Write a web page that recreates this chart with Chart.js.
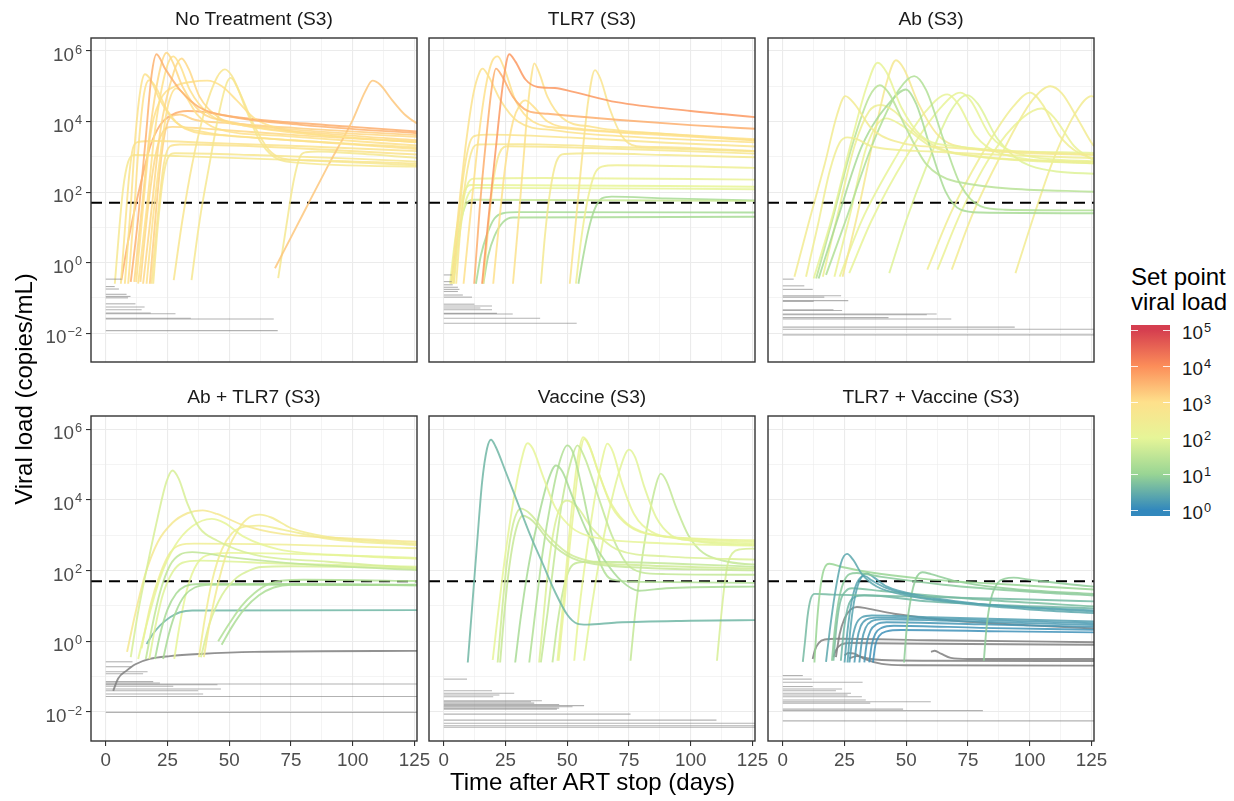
<!DOCTYPE html>
<html><head><meta charset="utf-8">
<script src="https://cdn.jsdelivr.net/npm/chart.js@4.4.1/dist/chart.umd.min.js"></script>
<style>
body{margin:0;background:#fff;width:1234px;height:801px;overflow:hidden;position:relative;font-family:"Liberation Sans",Arial,Helvetica,sans-serif;}
canvas{position:absolute;}
.txt{position:absolute;line-height:1;white-space:nowrap;}
.strip{width:326px;text-align:center;font-size:19.2px;color:#1a1a1a;}
.lab{font-size:18.8px;color:#1a1a1a;}
.lab span{position:relative;top:-7.5px;font-size:12.8px;margin-left:1px;}
</style></head><body>
<script>
// ---------------- DATA (y values are log10 viral load, copies/mL) ----------------
const panelTitles = ["No Treatment (S3)","TLR7 (S3)","Ab (S3)","Ab + TLR7 (S3)","Vaccine (S3)","TLR7 + Vaccine (S3)"];
const xTicks = [0,25,50,75,100,125];
const xGrid = [0,12.5,25,37.5,50,62.5,75,87.5,100,112.5,125];
const yTickPowers = [-2,0,2,4,6];
const yGrid = [-2,-1,0,1,2,3,4,5,6];
const legendPowers = [0,1,2,3,4,5];
const detectionLimit = 50;
const xTitle = "Time after ART stop (days)";
const yTitle = "Viral load (copies/mL)";
const legendTitle = ["Set point","viral load"];

const noTreatmentCurves = [
 [[10.1,-0.55],[13,1.2],[16,3.4],[18.5,5.3],[20.5,5.91],[24,5.5],[30,4.9],[38,4.4],[50,4.15],[80,3.9],[130,3.65]],
 [[11.5,-0.55],[14.5,1.5],[18,3.8],[22,5.5],[24.6,5.95],[27,5.7],[31,5.0],[38,4.3],[50,4.0],[80,3.75],[130,3.55]],
 [[13.1,-0.6],[16.5,1.5],[20,3.8],[24.5,5.5],[27.3,5.85],[30,5.6],[34,4.9],[42,4.2],[55,3.9],[90,3.6],[130,3.4]],
 [[15.1,-0.6],[18.5,1.5],[22,3.7],[27.5,5.4],[30.7,5.79],[33.5,5.5],[38,4.7],[46,4.1],[60,3.85],[90,3.65],[130,3.45]],
 [[7.7,-0.6],[10,1.5],[12,3.6],[14,4.9],[15.8,5.34],[18,5.2],[22,4.6],[28,4.0],[40,3.7],[70,3.5],[130,3.25]],
 [[9.05,-0.6],[11.5,1.5],[13.5,3.5],[15.5,4.8],[17.5,5.17],[20,5.0],[25,4.3],[32,3.8],[50,3.6],[90,3.4],[130,3.2]],
 [[12.3,-0.55],[15,1.5],[18,3.6],[22,4.6],[28,5.0],[35,5.13],[41,5.16],[47,5.0],[53,4.6],[60,4.1],[70,3.8],[90,3.6],[130,3.4]],
 [[27.5,-0.5],[31,1.2],[35,2.8],[40,4.3],[45,5.25],[48.2,5.48],[51,5.3],[55,4.7],[60,3.9],[66,3.2],[72,2.95],[85,2.9],[130,2.8]],
 [[34.7,-0.5],[38,1.2],[42,2.8],[46,4.3],[49,5.1],[50.6,5.24],[53,5.0],[57,4.3],[62,3.5],[68,3.0],[75,2.85],[130,2.72]],
 [[68.5,-0.16],[80,1.4],[90,2.75],[100,4.05],[105,4.85],[108,5.16],[111,5.05],[116,4.6],[121,4.2],[126,3.95],[132,3.75]],
 [[69.8,-0.44],[73,1.0],[76,2.3],[78.6,3.0],[81,3.13],[86,3.15],[100,3.1],[130,2.95]],
 [[16.5,-0.6],[19,1.2],[22,3.0],[25,4.4],[28.6,4.94],[32,4.75],[37,4.2],[45,3.8],[70,3.6],[130,3.3]],
 [[6.1,-0.6],[8,1.2],[9.5,2.5],[11,3.25],[13,3.42],[20,3.45],[40,3.4],[80,3.3],[130,3.15]],
 [[3.65,-0.6],[5.5,1.0],[7,2.1],[9,2.85],[11.5,3.05],[30,3.02],[80,2.9],[130,2.75]],
 [[6.3,-0.5],[9,0.6],[12,1.6],[15,2.5],[18,3.3],[22,3.9],[27,4.2],[33,4.3],[40,4.27],[50,4.15],[70,4.0],[100,3.85],[130,3.7]],
 [[17.8,-0.6],[20,1.2],[22,2.7],[24,3.7],[26.5,4.15],[30,4.2],[36,4.05],[50,3.95],[80,3.8],[130,3.6]],
 [[19.2,-0.6],[21,1.0],[23,2.3],[25,2.95],[28,3.1],[60,3.05],[100,2.95],[130,2.85]],
 [[14,-0.55],[17,1.5],[20,3.0],[23,3.7],[27,3.85],[40,3.8],[80,3.6],[130,3.4]],
 [[18.5,-0.6],[21,1.3],[23.5,2.8],[26,3.3],[30,3.35],[60,3.3],[130,3.05]]
];
const noTreatmentSetpoint = [3.55,3.1,3.0,3.1,2.9,3.0,3.0,2.75,2.65,3.3,2.6,3.0,2.85,2.65,3.6,3.2,2.7,3.1,2.85];
const noTreatmentRebound = [[6.4,-0.47],[3.6,-0.68],[5.3,-0.75],[8.4,-0.9],[10,-0.96],[9,-1.0],[12,-1.17],[15.7,-1.26],[14.5,-1.34],[18.2,-1.43],[28.2,-1.45],[34.4,-1.58],[68,-1.6],[69.6,-1.93]];

const tlr7Curves = [
 [[15.5,-0.6],[18,1.2],[21,3.2],[24,5.1],[26.5,5.91],[29,5.7],[33,5.2],[38,4.98],[45,4.95],[52,4.85],[70,4.55],[100,4.3],[130,4.1]],
 [[12.3,-0.6],[14.5,1.5],[17,3.4],[19.5,5.0],[21.1,5.5],[23.5,5.3],[28,4.7],[34,4.3],[42,4.22],[70,4.05],[100,3.9],[130,3.78]],
 [[8,-0.6],[11,1.5],[14,3.5],[17,5.0],[19.5,5.7],[21.8,5.85],[24.5,5.5],[29,4.6],[36,4.0],[50,3.8],[80,3.65],[130,3.45]],
 [[3,-0.6],[6,1.5],[9,3.4],[12,4.8],[14.5,5.4],[15.7,5.5],[18,5.3],[23,4.6],[30,4.0],[45,3.75],[80,3.55],[130,3.4]],
 [[28,-0.6],[30,1.0],[32,2.7],[34,4.4],[35.5,5.3],[36.6,5.65],[38.5,5.4],[42,4.7],[48,4.1],[60,3.85],[90,3.65],[130,3.45]],
 [[51,-0.6],[53.5,1.2],[56,3.0],[58.5,4.6],[61.2,5.46],[63.5,5.2],[67,4.4],[72,3.6],[78,3.3],[85,3.28],[130,3.15]],
 [[20,-0.6],[22.5,1.2],[25,2.8],[28,4.0],[31,4.5],[33,4.6],[36,4.45],[42,4.0],[55,3.8],[90,3.65],[130,3.48]],
 [[4,-0.6],[6,1.2],[8,2.5],[10.5,3.4],[13,3.6],[18,3.63],[50,3.55],[90,3.4],[130,3.28]],
 [[5,-0.6],[7,1.2],[9,2.4],[11.5,3.2],[14,3.35],[30,3.36],[70,3.28],[130,3.15]],
 [[16,-0.6],[18,1.0],[20,2.3],[22.5,3.1],[26,3.3],[60,3.25],[130,3.08]],
 [[39.3,-0.6],[41,0.8],[43,2.0],[45.5,2.85],[49,3.08],[60,3.1],[90,3.05],[130,2.98]],
 [[53.5,-0.6],[55.5,0.6],[58,1.7],[61,2.5],[64,2.72],[70,2.76],[130,2.68]],
 [[3.5,-0.6],[5.5,0.6],[7.5,1.6],[9.5,2.2],[12,2.38],[40,2.4],[130,2.35]],
 [[2.5,-0.6],[4.5,0.6],[6.5,1.5],[8.5,2.05],[11,2.2],[130,2.15]],
 [[4,-0.6],[6,0.6],[8,1.5],[10,1.95],[13,2.12],[130,2.08]],
 [[3,-0.6],[5,0.4],[7,1.2],[9,1.65],[12,1.78],[130,1.75]],
 [[54.5,-0.6],[56.5,0.2],[58.5,0.9],[61,1.5],[64,1.82],[68,1.87],[90,1.82],[130,1.76]],
 [[13,-0.6],[15,0.2],[17.5,0.8],[20.5,1.25],[24,1.4],[30,1.43],[130,1.42]],
 [[16,-0.6],[18,0.2],[20.5,0.75],[24,1.15],[28,1.28],[130,1.3]]
];
const tlr7Setpoint = [3.85,3.6,3.0,2.9,2.9,2.8,3.0,2.8,2.7,2.7,2.55,2.35,2.15,2.05,2.0,1.6,1.2,1.15,1.2];
const tlr7Rebound = [[3.2,-0.35],[3.2,-0.54],[3.6,-0.63],[5.7,-0.7],[6.3,-0.76],[5.7,-0.82],[7.7,-0.92],[11.4,-0.98],[12.4,-1.18],[19.5,-1.23],[14.8,-1.29],[19.5,-1.34],[21.5,-1.44],[27.9,-1.46],[39,-1.58],[53.8,-1.72]];

const abCurves = [
 [[4.7,-0.4],[10,1.0],[17,2.8],[22,4.2],[25.3,4.72],[29,4.5],[36,3.8],[45,3.45],[70,3.25],[130,3.05]],
 [[9.4,-0.4],[14,1.0],[19,2.6],[23,3.4],[26.2,3.55],[30,3.5],[36,3.3],[60,3.15],[130,2.95]],
 [[12.5,-0.45],[20,1.3],[28,3.5],[34,5.0],[38.4,5.67],[42,5.4],[48,4.4],[56,3.6],[70,3.3],[130,3.1]],
 [[13.5,-0.45],[20,1.2],[28,3.3],[35,4.7],[39.3,5.03],[43,4.8],[50,3.8],[58,2.8],[70,2.3],[130,2.0]],
 [[14.5,-0.45],[22,1.2],[32,3.3],[44,4.6],[49.8,4.91],[54,4.5],[60,3.2],[66,2.0],[72,1.5],[80,1.42],[130,1.4]],
 [[16.2,-0.4],[22,1.3],[29,3.3],[35,4.3],[39.7,4.47],[45,4.3],[55,3.6],[70,3.1],[130,2.85]],
 [[17.5,-0.35],[26,1.3],[36,3.3],[47,4.9],[53.2,5.29],[58,4.9],[65,3.5],[72,2.2],[80,1.6],[90,1.5],[130,1.48]],
 [[20.9,-0.4],[27,1.3],[34,3.3],[41.7,4.09],[48,3.9],[60,3.3],[80,3.0],[130,2.8]],
 [[24.2,-0.4],[30,1.3],[37,3.6],[42,5.1],[45.8,5.74],[49,5.5],[55,4.5],[63,3.6],[75,3.25],[130,3.05]],
 [[23,-0.4],[32,1.2],[45,2.9],[58,4.3],[66.6,4.77],[71,4.5],[78,3.6],[88,3.1],[130,2.8]],
 [[26.9,-0.3],[36,1.2],[50,3.0],[64,4.4],[71.9,4.82],[76,4.6],[84,3.6],[95,3.1],[130,2.85]],
 [[43.1,-0.3],[50,1.2],[58,2.7],[68,4.3],[74.6,4.75],[79,4.5],[87,3.5],[100,2.75],[130,2.5]],
 [[58.5,-0.2],[68,1.4],[80,3.0],[93,4.4],[100.2,4.82],[105,4.5],[112,3.6],[120,3.1],[130,2.9]],
 [[62.6,-0.2],[72,1.4],[84,3.0],[97,4.1],[104.9,4.37],[110,4.1],[118,3.3],[126,2.9],[132,2.75]],
 [[68.4,-0.2],[77,1.4],[88,3.0],[101,4.6],[108.3,5.0],[113,4.8],[120,4.0],[126,3.3],[132,3.0]],
 [[94.2,-0.3],[102,1.4],[110,3.0],[119,4.3],[125,4.72],[130,4.5]]
];
const abSetpoint = [2.5,2.4,2.1,1.4,1.2,2.3,1.3,2.2,2.6,2.1,2.1,1.9,2.4,2.2,2.5,2.5];
const abRebound = [[4.4,-0.47],[8.7,-0.66],[12.1,-0.76],[23.6,-0.94],[16.8,-0.98],[26.5,-1.08],[12.5,-1.1],[20.5,-1.34],[24,-1.36],[62.3,-1.46],[58.3,-1.48],[42.8,-1.56],[68.2,-1.6],[93.9,-1.83],[130,-1.89],[130,-2.05]];

const abTlr7Curves = [
 [[10.1,-0.45],[13,0.8],[17,2.2],[21,3.5],[24.5,4.5],[27,4.83],[29.5,4.6],[33,3.9],[38,3.2],[45,2.85],[60,2.45],[90,2.25],[130,2.05]],
 [[8.6,-0.3],[12,0.8],[16,1.9],[21,2.8],[27,3.35],[33,3.62],[39.2,3.7],[45,3.6],[55,3.3],[70,3.05],[100,2.9],[130,2.8]],
 [[13.1,-0.5],[17,0.6],[22,1.8],[28,2.7],[35,3.25],[42.8,3.46],[48,3.35],[56,2.95],[70,2.6],[100,2.42],[130,2.32]],
 [[39.7,-0.45],[42,0.5],[45,1.5],[49,2.5],[54,3.2],[58,3.5],[62.4,3.58],[67,3.5],[75,3.2],[90,2.95],[110,2.82],[130,2.75]],
 [[37.7,-0.45],[40,0.6],[43,1.7],[47,2.6],[51,3.05],[55,3.22],[62,3.27],[72,3.15],[90,2.9],[130,2.7]],
 [[14.5,-0.2],[18,1.0],[22,1.9],[26,2.5],[30,2.72],[36,2.76],[80,2.72],[130,2.62]],
 [[16.2,-0.5],[19,0.5],[22,1.4],[26,2.15],[30,2.45],[35,2.52],[50,2.38],[80,2.18],[130,2.0]],
 [[17.6,-0.5],[20,0.4],[23,1.3],[27,1.95],[31,2.22],[38,2.28],[70,2.2],[130,2.1]],
 [[38.5,-0.45],[42,0.5],[47,1.3],[53,1.8],[58,2.0],[63,2.1],[75,2.12],[130,2.05]],
 [[19.9,-0.5],[22,0.2],[25,0.9],[28.5,1.35],[32,1.55],[38,1.62],[80,1.62],[130,1.58]],
 [[23.2,-0.5],[25.5,0.2],[28.5,0.85],[32,1.3],[36,1.52],[42,1.6],[130,1.6]],
 [[45.5,0.0],[50,0.5],[55,1.0],[60,1.35],[66,1.62],[72,1.72],[80,1.74],[130,1.7]],
 [[46.9,-0.1],[51,0.4],[56,0.9],[62,1.3],[68,1.52],[75,1.6],[130,1.58]],
 [[16.5,-0.08],[19,0.2],[22,0.45],[26,0.68],[30,0.82],[35,0.87],[130,0.88]],
 [[27.7,-0.5],[30,0.5],[33,1.5],[37,2.2],[42,2.45],[50,2.5],[130,2.35]],
 [[3,-1.4],[5,-1.05],[8.4,-0.83],[12,-0.65],[17.8,-0.5],[26,-0.42],[38,-0.36],[60,-0.3],[130,-0.27]]
];
const abTlr7Setpoint = [1.8,2.6,2.0,2.5,2.45,2.4,1.5,1.9,1.8,1.2,1.2,1.3,1.25,0.6,2.0,null];
const abTlr7Rebound = [[10.8,-0.58],[10.4,-0.72],[16.9,-0.86],[15.1,-0.92],[19.2,-1.14],[21.9,-1.18],[130,-1.21],[45.2,-1.23],[27.3,-1.27],[46.6,-1.35],[37.4,-1.4],[39.4,-1.49],[130,-1.56],[130,-2.01]];

const vaccineCurves = [
 [[9.7,-0.6],[11.5,1.0],[13.5,2.8],[15.5,4.5],[17.5,5.45],[19.1,5.7],[21,5.5],[25,4.8],[30,3.9],[35,3.0],[40,2.2],[45,1.4],[50,0.75],[54,0.5],[58,0.47],[70,0.53],[100,0.58],[130,0.6]],
 [[19.8,-0.53],[22,0.8],[25,2.5],[28,3.9],[31,5.0],[33.9,5.6],[36,5.45],[40,4.7],[45,3.8],[52,3.2],[60,2.95],[80,2.8],[130,2.7]],
 [[21.8,-0.6],[23.5,0.8],[25.5,2.2],[28,3.3],[31.2,3.75],[35,3.6],[42,3.0],[50,2.5],[60,2.25],[80,2.15],[130,2.05]],
 [[22.8,-0.6],[24.5,0.8],[26.5,2.1],[29,3.1],[32,3.55],[36,3.4],[43,2.8],[52,2.35],[65,2.15],[130,2.0]],
 [[28.9,-0.6],[31,0.6],[34,2.0],[38,3.4],[42,4.5],[45.4,4.97],[48,4.8],[52,4.1],[58,3.1],[65,2.3],[72,1.7],[79,1.43],[90,1.5],[130,1.55]],
 [[34.6,-0.6],[37,0.8],[40,2.5],[43.5,4.0],[47,5.1],[50,5.54],[52.5,5.3],[56,4.3],[60,3.0],[64,2.1],[68,1.75],[80,1.68],[130,1.65]],
 [[38.6,-0.6],[40.5,0.8],[42.5,2.2],[45,3.3],[47.5,3.85],[50,3.98],[54,3.8],[60,3.2],[70,2.6],[90,2.4],[130,2.3]],
 [[39.3,-0.6],[42,0.8],[45,2.5],[48,4.0],[51.5,5.1],[54.1,5.54],[57,5.2],[62,4.2],[68,3.0],[74,2.2],[80,1.95],[90,1.9],[130,1.88]],
 [[46,-0.55],[48.5,1.2],[50.5,2.8],[52.5,4.2],[54.5,5.3],[56.4,5.77],[58.5,5.6],[62,4.9],[67,4.0],[73,3.4],[80,3.1],[100,2.9],[130,2.8]],
 [[46.5,-0.55],[49,1.2],[51,2.7],[53,4.0],[55,5.2],[56.8,5.72],[59,5.5],[63,4.7],[68,3.8],[75,3.25],[85,3.0],[130,2.85]],
 [[52.8,-0.55],[55,1.0],[58,2.6],[61,4.0],[64,5.1],[66.2,5.59],[68.5,5.35],[72,4.5],[77,3.6],[84,3.1],[95,2.9],[130,2.75]],
 [[56.8,-0.55],[59.5,0.8],[63,2.3],[67,3.7],[71,4.8],[75,5.42],[77.5,5.2],[81,4.4],[86,3.5],[92,3.0],[100,2.85],[130,2.7]],
 [[75.6,-0.55],[77.5,0.8],[80,2.2],[83,3.5],[86,4.45],[87.8,4.74],[90,4.55],[94,3.8],[99,3.0],[105,2.5],[115,2.25],[130,2.15]],
 [[110.6,-0.55],[112,0.5],[113.5,1.5],[115,2.2],[117,2.5],[120,2.6],[125,2.62],[130,2.6]],
 [[44,-0.6],[46,0.5],[48.5,1.5],[51,2.05],[54,2.22],[60,2.25],[130,2.1]]
];
const vaccineSetpoint = [0.6,2.0,1.7,1.6,1.2,1.3,1.85,1.55,2.1,2.1,2.0,1.95,1.55,1.8,1.55];
const vaccineRebound = [[9.4,-1.07],[19.5,-1.4],[28.5,-1.47],[22.5,-1.52],[20,-1.57],[39.7,-1.68],[35.3,-1.71],[36.6,-1.75],[46.7,-1.79],[56.8,-1.82],[52.1,-1.85],[46.7,-1.89],[45.8,-1.92],[75.6,-2.06],[110.4,-2.23],[130,-2.32],[130,-2.39],[130,-2.43]];

const tlr7VaccineCurves = [
 [[17.5,-0.58],[19,0.3],[21,1.3],[23.5,2.2],[26,2.47],[28.5,2.3],[32,1.9],[38,1.55],[50,1.3],[75,1.05],[100,0.9],[130,0.78]],
 [[12.8,-0.6],[13.8,0.5],[15,1.4],[16.5,2.0],[18.9,2.19],[24,2.1],[35,1.95],[55,1.78],[80,1.65],[105,1.55],[130,1.45]],
 [[8.1,-0.58],[9,0.0],[10,0.7],[11.3,1.2],[13,1.34],[20,1.32],[50,1.27],[100,1.18],[130,1.12]],
 [[19.9,-0.55],[21,0.3],[22.5,1.1],[24.5,1.65],[27,1.9],[30,1.93],[40,1.82],[65,1.6],[100,1.4],[130,1.28]],
 [[26.2,-0.6],[27.3,0.3],[28.8,1.1],[31,1.7],[34,1.92],[37,1.8],[42,1.55],[55,1.3],[80,1.05],[130,0.82]],
 [[25,-0.6],[26.2,0.3],[27.8,1.1],[30,1.65],[33,1.85],[36,1.72],[42,1.5],[58,1.22],[90,1.0],[130,0.86]],
 [[49.1,-0.6],[50.2,0.4],[51.8,1.2],[53.8,1.75],[56.5,1.95],[60,1.9],[70,1.7],[90,1.5],[130,1.32]],
 [[81.4,-0.55],[82.5,0.4],[84.3,1.2],[87,1.65],[90,1.77],[93.5,1.8],[100,1.74],[115,1.62],[130,1.52]],
 [[20.5,-0.55],[21.7,0.4],[23.2,1.1],[25.5,1.42],[28,1.5],[40,1.42],[80,1.18],[130,0.97]],
 [[23.5,-0.55],[24.7,0.3],[26.3,0.95],[29,1.25],[33,1.3],[60,1.12],[130,0.92]],
 [[27,-0.6],[28,0.0],[29.5,0.45],[32,0.68],[36,0.73],[60,0.68],[130,0.55]],
 [[29,-0.6],[30,0.0],[31.5,0.42],[34,0.62],[38,0.67],[70,0.62],[130,0.5]],
 [[31,-0.6],[32,0.0],[33.5,0.38],[36,0.57],[40,0.62],[80,0.55],[130,0.45]],
 [[33,-0.6],[34,-0.05],[35.5,0.3],[38,0.48],[42,0.54],[80,0.48],[130,0.4]],
 [[35,-0.6],[36,-0.1],[37.5,0.22],[40,0.38],[45,0.44],[80,0.38],[130,0.32]],
 [[36.5,-0.6],[37.5,-0.1],[39,0.15],[42,0.28],[48,0.32],[90,0.28],[130,0.25]],
 [[21.5,-0.45],[23,0.2],[25,0.65],[27.5,0.9],[30,0.97],[34,0.93],[45,0.78],[70,0.58],[100,0.45],[130,0.35]],
 [[12.1,-0.5],[13,-0.25],[14.5,-0.05],[17,0.05],[22,0.07],[60,0.03],[130,-0.03]],
 [[20.5,-0.45],[21.5,-0.25],[23.5,-0.1],[27,-0.05],[60,-0.07],[130,-0.1]],
 [[25,-0.4],[26.5,-0.33],[29,-0.35],[33,-0.5],[40,-0.64],[50,-0.68],[130,-0.69]],
 [[27,-0.48],[30,-0.42],[34,-0.48],[40,-0.53],[60,-0.55],[130,-0.56]],
 [[60,-0.3],[61.5,-0.27],[64,-0.35],[68,-0.47],[75,-0.5],[130,-0.5]]
];
const tlr7VaccineSetpoint = [0.4,1.0,0.65,0.85,0.35,0.35,0.9,0.9,0.7,0.6,0.3,0.25,0.25,0.2,0.15,0.12,null,null,null,null,null,null];
const tlr7VaccineRebound = [[8.1,-0.97],[11.7,-1.07],[32.3,-1.16],[12.1,-1.28],[24,-1.35],[21.5,-1.4],[27.6,-1.47],[26.2,-1.52],[32,-1.57],[33.6,-1.66],[59.9,-1.71],[35.4,-1.75],[48.7,-1.92],[81,-1.96],[130,-2.25]];

// ---------------- STYLE / LAYOUT ----------------
const FONT = '"Liberation Sans", Arial, Helvetica, sans-serif';
Chart.defaults.font.family = FONT;
const spectral = [[50,136,189],[153,213,148],[230,245,152],[254,224,139],[252,141,89],[213,62,79]]; // 10^0 .. 10^5
function spColor(v, a){
  if (v === null || v === undefined) return `rgba(127,127,127,${a})`;
  let t = Math.max(0, Math.min(1, v/5)) * (spectral.length-1);
  let i = Math.min(spectral.length-2, Math.floor(t)), f = t - i;
  const c = spectral[i].map((ch,k)=>Math.round(ch + (spectral[i+1][k]-ch)*f));
  return `rgba(${c[0]},${c[1]},${c[2]},${a})`;
}
const panels = [
  {curves:noTreatmentCurves, sp:noTreatmentSetpoint, seg:noTreatmentRebound},
  {curves:tlr7Curves, sp:tlr7Setpoint, seg:tlr7Rebound},
  {curves:abCurves, sp:abSetpoint, seg:abRebound},
  {curves:abTlr7Curves, sp:abTlr7Setpoint, seg:abTlr7Rebound},
  {curves:vaccineCurves, sp:vaccineSetpoint, seg:vaccineRebound},
  {curves:tlr7VaccineCurves, sp:tlr7VaccineSetpoint, seg:tlr7VaccineRebound}
];
const colLeft = [91,429,768], rowTop = [38,416], rowH = [324,325], PW = 326;
const L = 75, T = 10, R = 24, B = 46;
const YMIN = -2.82, YMAX = 6.37, XMIN = -6, XMAX = 126;

function addText(html, cls, style){
  const d = document.createElement('div'); d.className = 'txt ' + cls; d.innerHTML = html;
  Object.assign(d.style, style); document.body.appendChild(d); return d;
}

const framePlugin = {
  id:'frame',
  afterDraw(chart, args, opts){
    const a = chart.chartArea, ctx = chart.ctx;
    ctx.save();
    if (opts.yLabels){
      const s = chart.scales.y;
      ctx.fillStyle = '#4d4d4d'; ctx.textBaseline = 'alphabetic'; ctx.textAlign = 'right';
      yTickPowers.forEach(p=>{
        const y = s.getPixelForValue(p);
        const ex = p < 0 ? '\u2212' + (-p) : String(p);
        ctx.font = `12.8px ${FONT}`;
        const ew = ctx.measureText(ex).width;
        const right = a.left - 9;
        ctx.fillText(ex, right, y + 2.5);
        ctx.font = `18.8px ${FONT}`;
        ctx.fillText('10', right - ew - 1, y + 10);
      });
    }
    ctx.strokeStyle = '#333333'; ctx.lineWidth = 1.4;
    ctx.strokeRect(a.left, a.top, a.right - a.left, a.bottom - a.top);
    ctx.restore();
  }
};

panels.forEach((p, i)=>{
  const r = Math.floor(i/3), c = i % 3;
  const w = L + PW + R, h = T + rowH[r] + B;
  const cv = document.createElement('canvas');
  cv.width = w; cv.height = h;
  Object.assign(cv.style, {left:(colLeft[c]-L)+'px', top:(rowTop[r]-T)+'px', width:w+'px', height:h+'px'});
  document.body.appendChild(cv);

  const datasets = [];
  p.seg.forEach(s=>datasets.push({data:[{x:0,y:s[1]},{x:s[0],y:s[1]}], borderColor:'rgba(127,127,127,0.6)', borderWidth:1.1, pointRadius:0, clip:0}));
  p.curves.forEach((pts, k)=>datasets.push({
    data: pts.map(q=>({x:q[0], y:q[1]})), borderColor: spColor(p.sp[k], 0.85), borderWidth:1.9,
    pointRadius:0, cubicInterpolationMode:'monotone', capBezierPoints:false, clip:0
  }));
  const lim = Math.log10(detectionLimit);
  datasets.push({data:[{x:XMIN,y:lim},{x:XMAX,y:lim}], borderColor:'#000', borderWidth:2.1, borderDash:[11,7], pointRadius:0, clip:0});

  new Chart(cv, {
    type:'line',
    data:{datasets},
    options:{
      responsive:false, animation:false, devicePixelRatio:1, parsing:false,
      layout:{padding:{top:T, right:R, left:0, bottom:0}},
      plugins:{legend:{display:false}, tooltip:{enabled:false}, frame:{yLabels: c===0}},
      elements:{line:{fill:false}},
      scales:{
        x:{type:'linear', min:XMIN, max:XMAX,
          afterBuildTicks:s=>{ s.ticks = xGrid.map(v=>({value:v})); },
          afterFit:s=>{ s.height = B; },
          border:{display:false},
          grid:{color:'#ebebeb', lineWidth:ctx=>xTicks.includes(ctx.tick && ctx.tick.value)?1.1:0.55,
                drawTicks: r===1, tickLength:5, tickWidth:1.1,
                tickColor:ctx=>xTicks.includes(ctx.tick && ctx.tick.value)?'#333333':'rgba(0,0,0,0)'},
          ticks:{display: r===1, autoSkip:false, maxRotation:0, minRotation:0, padding:4, color:'#4d4d4d',
                 font:{family:FONT, size:18.8}, callback:v=> xTicks.includes(v) ? String(v) : ''}
        },
        y:{type:'linear', min:YMIN, max:YMAX,
          afterBuildTicks:s=>{ s.ticks = yGrid.map(v=>({value:v})); },
          afterFit:s=>{ s.width = L; },
          border:{display:false},
          grid:{color:'#ebebeb', lineWidth:ctx=>yTickPowers.includes(ctx.tick && ctx.tick.value)?1.1:0.55,
                drawTicks: c===0, tickLength:5, tickWidth:1.1,
                tickColor:ctx=>yTickPowers.includes(ctx.tick && ctx.tick.value)?'#333333':'rgba(0,0,0,0)'},
          ticks:{display:false}
        }
      }
    },
    plugins:[framePlugin]
  });

  addText(panelTitles[i], 'strip', {left: colLeft[c]+'px', top: (rowTop[r] - 13 - 16.25)+'px'});
});

// axis titles
addText(xTitle, '', {left:'91px', width:'1003px', textAlign:'center', fontSize:'24px', color:'#000', top:'770.4px'});
addText(yTitle, '', {left:'-326px', width:'700px', height:'24px', textAlign:'center', fontSize:'24px', color:'#000', top:'377.4px', transform:'rotate(-90deg)'});

// colour-bar legend
legendTitle.forEach((t, k)=>addText(t, '', {left:'1131px', top:(264.7 + 25*k)+'px', fontSize:'24px', color:'#000'}));
const barTop = 325, barBot = 516, tick0 = 510, perDec = 36;
const vTop = (tick0 - barTop)/perDec, vBot = (tick0 - barBot)/perDec;
const stops = spectral.map((col, k)=>{
  const v = k*5/(spectral.length-1);
  return `rgb(${col.join(',')}) ${((v - vBot)/(vTop - vBot)*100).toFixed(2)}%`;
});
const bar = document.createElement('div');
Object.assign(bar.style, {position:'absolute', left:'1131px', top:barTop+'px', width:'39px', height:(barBot-barTop)+'px',
  background:`linear-gradient(to top, ${stops.join(', ')})`});
document.body.appendChild(bar);
legendPowers.forEach(pw=>{
  const y = tick0 - perDec*pw;
  [1131,1163].forEach(x=>{
    const t = document.createElement('div');
    Object.assign(t.style, {position:'absolute', left:x+'px', top:(y-0.5)+'px', width:'7px', height:'1px', background:'rgba(255,255,255,0.85)'});
    document.body.appendChild(t);
  });
  addText(`10<span>${pw}</span>`, 'lab', {left:'1182px', top:(y + 10 - 15.9)+'px'});
});
</script>
</body></html>
